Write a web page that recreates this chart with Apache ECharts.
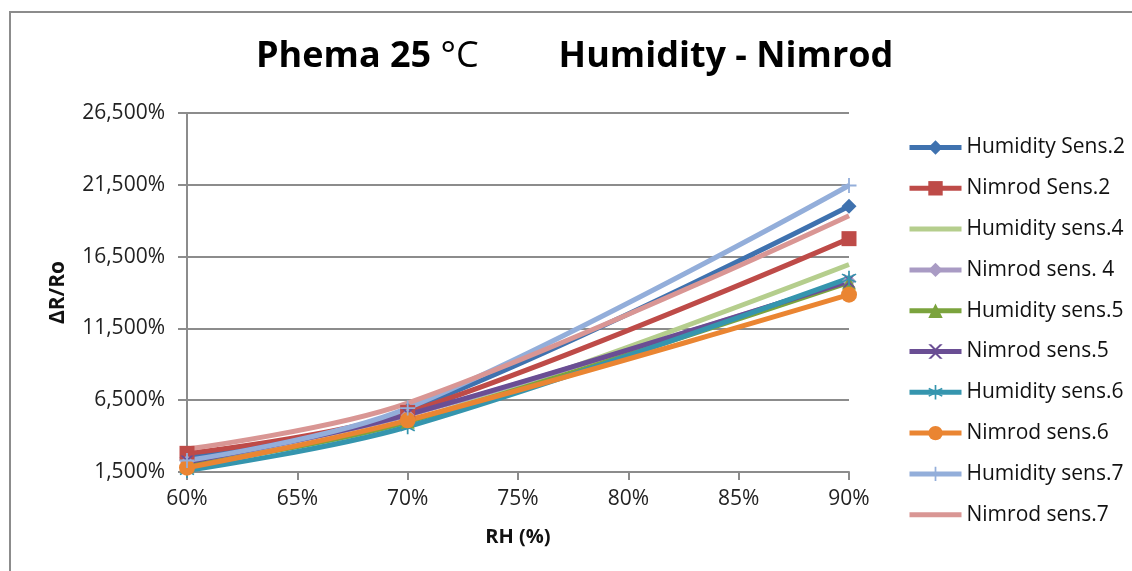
<!DOCTYPE html>
<html>
<head>
<meta charset="utf-8">
<script src="https://cdn.jsdelivr.net/npm/echarts@6/dist/echarts.min.js"></script>
<style>
  html, body { margin: 0; padding: 0; background: #fff; }
  #chart { width: 1132px; height: 571px; }
</style>
</head>
<body>
<div id="chart"></div>
<script>
// Relative humidity sample points (%)
const rhPoints = [60, 70, 90];

// ΔR/Ro (%) for each sensor at the RH points above
const humiditySens2 = [2500, 5800, 20000];
const nimrodSens2   = [2800, 5650, 17750];
const humiditySens4 = [2100, 5000, 15950];
const nimrodSens4   = [2200, 5450, 14800];
const humiditySens5 = [1900, 5000, 14700];
const nimrodSens5   = [2200, 5500, 14800];
const humiditySens6 = [1600, 4650, 15000];
const nimrodSens6   = [1800, 5100, 13850];
const humiditySens7 = [2300, 5950, 21450];
const nimrodSens7   = [3100, 6300, 19350];

// Axis ticks
const yMin = 1500, yMax = 26500, yStep = 5000;
const xMin = 60, xMax = 90, xStep = 5;

const FONT = '"Open Sans", "Noto Sans", sans-serif';

// custom marker shapes
const crossPath = 'path://M0,0 L2,0 L5,3 L8,0 L10,0 L6,4 L6,6 L10,10 L8,10 L5,7 L2,10 L0,10 L4,6 L4,4 Z';
const starPath = 'path://M4.5,0 L5.5,0 L5.5,3.8 L8.8,1.9 L9.3,2.8 L6,4.6 L6,5.4 L9.3,7.2 L8.8,8.1 L5.5,6.2 L5.5,10 L4.5,10 L4.5,6.2 L1.2,8.1 L0.7,7.2 L4,5.4 L4,4.6 L0.7,2.8 L1.2,1.9 L4.5,3.8 Z';
const plusPath = 'path://M4.4,0 L5.6,0 L5.6,4.4 L10,4.4 L10,5.6 L5.6,5.6 L5.6,10 L4.4,10 L4.4,5.6 L0,5.6 L0,4.4 L4.4,4.4 Z';

function pairs(values) {
  return rhPoints.map((x, i) => [x, values[i]]);
}

const seriesDefs = [
  { name: 'Humidity Sens.2', data: humiditySens2, color: '#3F72AF', symbol: 'diamond', size: 15 },
  { name: 'Nimrod Sens.2',   data: nimrodSens2,   color: '#BE4B48', symbol: 'rect', size: 15 },
  { name: 'Humidity sens.4', data: humiditySens4, color: '#B5CE8D', symbol: 'none', size: 0 },
  { name: 'Nimrod sens. 4',  data: nimrodSens4,   color: '#A99BC4', symbol: 'diamond', size: 14 },
  { name: 'Humidity sens.5', data: humiditySens5, color: '#7BA33D', symbol: 'triangle', size: 14 },
  { name: 'Nimrod sens.5',   data: nimrodSens5,   color: '#6A4E94', symbol: crossPath, size: 13 },
  { name: 'Humidity sens.6', data: humiditySens6, color: '#3595AE', symbol: starPath, size: 15 },
  { name: 'Nimrod sens.6',   data: nimrodSens6,   color: '#EA8532', symbol: 'circle', size: 16 },
  { name: 'Humidity sens.7', data: humiditySens7, color: '#93AEDA', symbol: plusPath, size: 15 },
  { name: 'Nimrod sens.7',   data: nimrodSens7,   color: '#D99694', symbol: 'none', size: 0 }
];

const series = seriesDefs.map(d => ({
  name: d.name,
  type: 'line',
  smooth: 0.35,
  data: pairs(d.data),
  symbol: d.symbol,
  symbolSize: d.size,
  showSymbol: d.symbol !== 'none',
  lineStyle: { color: d.color, width: 5 },
  itemStyle: { color: d.color, borderWidth: 0 },
  emphasis: { disabled: true },
  animation: false
}));

// legend entries: lines without markers get a transparent legend symbol
const legendData = seriesDefs.map(d => d.symbol === 'none'
  ? { name: d.name, itemStyle: { color: 'rgba(0,0,0,0)', borderWidth: 0 } }
  : { name: d.name });

function withCommas(v) {
  return String(v).replace(/\B(?=(\d{3})+(?!\d))/g, ',');
}

const chart = echarts.init(document.getElementById('chart'), null, { renderer: 'canvas' });
chart.setOption({
  backgroundColor: '#ffffff',
  animation: false,
  textStyle: { fontFamily: FONT },
  title: {
    left: 251,
    top: 34,
    text: '{b|Phema 25 }{n|°C}{sp|}{b|Humidity - Nimrod}',
    textStyle: {
      rich: {
        b: { fontFamily: FONT, fontSize: 36, fontWeight: 'bold', color: '#000' },
        n: { fontFamily: FONT, fontSize: 36, fontWeight: 'normal', color: '#000' },
        sp: { width: 80 }
      }
    }
  },
  graphic: [{
    type: 'rect',
    shape: { x: 10, y: 12, width: 1200, height: 700 },
    style: { fill: 'none', stroke: '#8c8c8c', lineWidth: 2 },
    silent: true
  }],
  legend: {
    orient: 'vertical',
    left: 902,
    top: 132,
    itemWidth: 52,
    itemHeight: 18,
    itemGap: 19.8,
    lineStyle: { width: 5 },
    textStyle: { fontFamily: FONT, fontSize: 21, color: '#111' },
    data: legendData
  },
  grid: { left: 187, right: 283, top: 113, bottom: 99, containLabel: false },
  xAxis: {
    type: 'value',
    min: xMin, max: xMax, interval: xStep,
    name: 'RH (%)',
    nameLocation: 'middle',
    nameGap: 55,
    nameTextStyle: { fontFamily: FONT, fontSize: 20, fontWeight: 'bold', color: '#111' },
    axisLine: { lineStyle: { color: '#8c8c8c', width: 2 } },
    axisTick: { show: true, length: 8, lineStyle: { color: '#8c8c8c', width: 2 } },
    axisLabel: { fontFamily: FONT, fontSize: 21, color: '#222', margin: 17, formatter: v => v + '%' },
    splitLine: { show: false }
  },
  yAxis: {
    type: 'value',
    min: yMin, max: yMax, interval: yStep,
    name: 'ΔR/Ro',
    nameLocation: 'middle',
    nameRotate: 90,
    nameGap: 118,
    nameTextStyle: { fontFamily: FONT, fontSize: 21, fontWeight: 'bold', color: '#111' },
    axisLine: { show: true, lineStyle: { color: '#8c8c8c', width: 2 } },
    axisTick: { show: true, length: 9, lineStyle: { color: '#8c8c8c', width: 2 } },
    axisLabel: { fontFamily: FONT, fontSize: 21, color: '#222', margin: 22, formatter: v => withCommas(v) + '%' },
    splitLine: { show: true, lineStyle: { color: '#8c8c8c', width: 2 } }
  },
  series: series
});
</script>
</body>
</html>
